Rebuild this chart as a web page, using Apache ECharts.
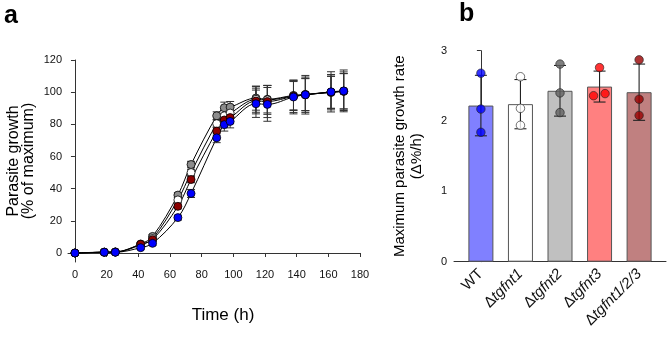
<!DOCTYPE html>
<html>
<head>
<meta charset="utf-8">
<script src="https://cdn.jsdelivr.net/npm/echarts@6/dist/echarts.min.js"></script>
<style>
html,body{margin:0;padding:0;background:#fff;}
#c{width:669px;height:337px;}
</style>
</head>
<body>
<div id="c"></div>
<script>
// ---------- Panel a data ----------
const times = [0, 18.5, 25.5, 41.5, 49, 65, 73.3, 89.5, 94.3, 98, 114.3, 121.5, 138, 145.5, 161.7, 169.7];
const growthGray   = [0, 0.5, 0.6, 5.6, 10.3, 36, 55, 85.3, 90.3, 90.7, 96.3, 95.6, 98, 98.6, 99.8, 100.5];
const growthWhite  = [0, 0.5, 0.6, 5.0, 9.0, 33, 50, 80.4, 85.3, 87.0, 95.5, 95.2, 97.6, 98.4, 100, 100.6];
const growthMaroon = [0, 0.5, 0.6, 5.4, 8.3, 29, 45.7, 75.8, 82.7, 84.2, 94.5, 94.2, 97.4, 98.4, 100, 100.6];
const growthBlue   = [0, 0.5, 0.5, 3.3, 6.0, 22, 37, 71.6, 79.8, 81.8, 92.8, 92.4, 97, 98.4, 100.2, 100.8];
const sdGray   = [0, 0.4, 0.4, 1.0, 1.2, 1.5, 2.0, 2.5, 3.5, 3.5, 7.5, 8.5, 9, 10, 10, 11];
const sdWhite  = [0, 0.4, 0.4, 1.0, 1.2, 1.5, 2.0, 2.5, 3.5, 3.5, 8, 9, 9, 10, 10, 11];
const sdMaroon = [0, 0.4, 0.4, 1.0, 1.2, 1.5, 2.0, 2.5, 3.5, 3.5, 8, 10, 10, 11, 11, 12];
const sdBlue   = [0, 0.4, 0.4, 1.0, 1.2, 1.5, 2.5, 3.0, 4.0, 4.0, 8.5, 10.5, 10.5, 12, 12.5, 13];
const timeTicks = [0, 20, 40, 60, 80, 100, 120, 140, 160, 180];
const growthTicks = [0, 20, 40, 60, 80, 100, 120];

// ---------- Panel b data ----------
const strains = ['WT', 'Δtgfnt1', 'Δtgfnt2', 'Δtgfnt3', 'Δtgfnt1/2/3'];
const rateMean = [2.22, 2.24, 2.43, 2.49, 2.41];
const rateSD   = [0.43, 0.35, 0.36, 0.22, 0.40];
const ratePoints = [
  [2.68, 2.17, 1.84],
  [2.63, 2.18, 1.94],
  [2.81, 2.40, 2.12],
  [2.76, 2.36, 2.39],
  [2.87, 2.31, 2.08]
];
const rateTicks = [0, 1, 2, 3];

// ---------- styling ----------
const FONT = '"Liberation Sans", Arial, sans-serif';
const AX = '#333';
const curveSeries = [
  {v: growthGray,   sd: sdGray,   color: '#8c8c8c'},
  {v: growthWhite,  sd: sdWhite,  color: '#ffffff'},
  {v: growthMaroon, sd: sdMaroon, color: '#8b0000'},
  {v: growthBlue,   sd: sdBlue,   color: '#0000ff'}
];
const barColors = ['#8080ff', '#ffffff', '#c0c0c0', '#ff8080', '#c08080'];
const dotColors = ['#0000ff', '#ffffff', '#606060', '#ff0000', '#990000'];
const jitter = {3: [0, -6, 5.5]};

function errRender(capHalf, color, width) {
  return function (params, api) {
    const x = api.value(0), y = api.value(1), sd = api.value(2);
    if (!sd) return;
    const top = api.coord([x, y + sd]);
    const bot = api.coord([x, y - sd]);
    const st = {stroke: color, lineWidth: width};
    return {
      type: 'group',
      children: [
        {type: 'line', shape: {x1: top[0], y1: top[1], x2: bot[0], y2: bot[1]}, style: st},
        {type: 'line', shape: {x1: top[0] - capHalf, y1: top[1], x2: top[0] + capHalf, y2: top[1]}, style: st},
        {type: 'line', shape: {x1: bot[0] - capHalf, y1: bot[1], x2: bot[0] + capHalf, y2: bot[1]}, style: st}
      ]
    };
  };
}

const series = [];
curveSeries.forEach(s => {
  series.push({
    type: 'line', xAxisIndex: 0, yAxisIndex: 0,
    data: times.map((t, i) => [t, s.v[i]]),
    smooth: 0.35, showSymbol: false, silent: true,
    lineStyle: {color: '#000', width: 1}, z: 2
  });
});
curveSeries.forEach(s => {
  series.push({
    type: 'custom', xAxisIndex: 0, yAxisIndex: 0,
    data: times.map((t, i) => [t, s.v[i], s.sd[i]]),
    encode: {x: 0, y: 1},
    renderItem: errRender(4, '#333', 1), z: 3
  });
});
curveSeries.forEach(s => {
  series.push({
    type: 'scatter', xAxisIndex: 0, yAxisIndex: 0,
    data: times.map((t, i) => [t, s.v[i]]),
    symbolSize: 8,
    itemStyle: {color: s.color, borderColor: '#000', borderWidth: 0.8, opacity: 1},
    z: 5
  });
});
series.push({
  type: 'bar', xAxisIndex: 1, yAxisIndex: 1,
  data: rateMean.map((m, i) => ({value: [i, m], itemStyle: {color: barColors[i]}})),
  barWidth: 25,
  itemStyle: {borderColor: '#555', borderWidth: 1},
  z: 2
});
series.push({
  type: 'custom', xAxisIndex: 1, yAxisIndex: 1,
  data: rateMean.map((m, i) => [i, m, rateSD[i]]),
  encode: {x: 0, y: 1},
  renderItem: errRender(6, '#222', 1.1), z: 3
});
const dotData = [];
ratePoints.forEach((pts, i) => {
  pts.forEach((v, k) => {
    const off = jitter[i] ? jitter[i][k] : 0;
    dotData.push({value: [i, v], symbolOffset: [off, 0],
      itemStyle: {color: dotColors[i], borderColor: '#222', borderWidth: 0.8}});
  });
});
series.push({
  type: 'scatter', xAxisIndex: 1, yAxisIndex: 1,
  data: dotData, symbolSize: 8.5, z: 5
});

const chart = echarts.init(document.getElementById('c'), null, {renderer: 'canvas'});
chart.setOption({
  animation: false,
  backgroundColor: '#fff',
  textStyle: {fontFamily: FONT},
  graphic: [
    {type: 'text', left: 4, top: 4, style: {text: 'a', font: 'bold 25px ' + FONT, fill: '#000'}},
    {type: 'text', left: 459, top: 2, style: {text: 'b', font: 'bold 25px ' + FONT, fill: '#000'}}
  ],
  grid: [
    {left: 68, top: 60, width: 292, height: 202, containLabel: false},
    {left: 454, top: 50.7, width: 212, height: 211, containLabel: false}
  ],
  xAxis: [
    {
      type: 'value', gridIndex: 0, min: -4.4, max: 180,
      axisLine: {show: true, lineStyle: {color: AX, width: 1}},
      axisTick: {show: true, length: 4, customValues: timeTicks, lineStyle: {color: AX}},
      axisLabel: {customValues: timeTicks, fontSize: 11, color: '#111', margin: 7, fontFamily: FONT},
      splitLine: {show: false},
      name: 'Time (h)', nameLocation: 'middle', nameGap: 45,
      nameTextStyle: {fontSize: 17, color: '#000', fontFamily: FONT, padding: [0, 0, 0, 18]}
    },
    {
      type: 'value', gridIndex: 1, min: -0.68, max: 4.68,
      axisLine: {show: true, lineStyle: {color: AX, width: 1}},
      axisTick: {show: false},
      axisLabel: {
        customValues: [0, 1, 2, 3, 4], rotate: 45, margin: 10, fontSize: 15, color: '#111', fontFamily: FONT,
        formatter: function (v) {
          const s = strains[Math.round(v)];
          if (s.charAt(0) === 'Δ') return '{n|Δ}{i|' + s.slice(1) + '}';
          return s;
        },
        rich: {
          n: {fontSize: 15, fontFamily: FONT, color: '#111'},
          i: {fontSize: 15, fontFamily: FONT, fontStyle: 'italic', color: '#111'}
        }
      },
      splitLine: {show: false}
    }
  ],
  yAxis: [
    {
      type: 'value', gridIndex: 0, min: -5.6, max: 120,
      axisLine: {show: true, lineStyle: {color: AX, width: 1}},
      axisTick: {show: true, length: 4, customValues: growthTicks, lineStyle: {color: AX}},
      axisLabel: {customValues: growthTicks, fontSize: 11, color: '#111', margin: 6, fontFamily: FONT},
      splitLine: {show: false},
      name: 'Parasite growth\n(% of maximum)', nameLocation: 'middle', nameGap: 32, nameRotate: 90,
      nameTextStyle: {fontSize: 16, lineHeight: 15, color: '#000', fontFamily: FONT}
    },
    {
      type: 'value', gridIndex: 1, min: 0, max: 3, interval: 1,
      axisLine: {show: true, lineStyle: {color: AX, width: 1}},
      axisTick: {show: true, length: 4, lineStyle: {color: AX}},
      axisLabel: {fontSize: 11, color: '#111', margin: 7, fontFamily: FONT},
      splitLine: {show: false},
      name: 'Maximum parasite growth rate\n(Δ%/h)', nameLocation: 'middle', nameGap: 29, nameRotate: 90,
      nameTextStyle: {fontSize: 15, lineHeight: 17, color: '#000', fontFamily: FONT}
    }
  ],
  series: series
});
</script>
</body>
</html>
